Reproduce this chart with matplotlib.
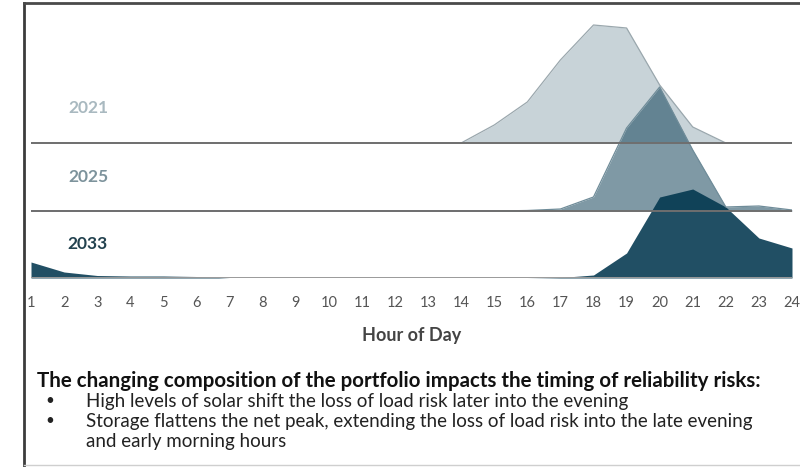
import matplotlib
matplotlib.use("Agg")
import matplotlib.pyplot as plt
from matplotlib.lines import Line2D

# Loss-of-load risk profile by hour of day (relative heights)
hours = list(range(1, 25))
years = ["2021", "2025", "2033"]
risk_2021 = [0, 0, 0, 0, 0, 0, 0, 0, 0, 0, 0, 0, 0, 0, 18, 41, 83, 118, 115, 58, 16, 0, 0, 0]
risk_2025 = [0, 0, 0, 0, 0, 0, 0, 0, 0, 0, 0, 0, 0, 0, 0, 0.5, 2, 14, 83, 124, 61, 4, 5, 1]
risk_2033 = [16, 6, 2.5, 2, 2, 1.5, 0, 0, 0, 0, 0, 0, 0, 0, 0, 0, 0.5, 3, 25, 81, 89, 71, 40, 30]
tick_labels = [str(h) for h in hours]

x_label = "Hour of Day"
headline = "The changing composition of the portfolio impacts the timing of reliability risks:"
bullets = [
    ["High levels of solar shift the loss of load risk later into the evening"],
    ["Storage flattens the net peak, extending the loss of load risk into the late evening",
     "and early morning hours"],
]

W, H = 800, 467
fig = plt.figure(figsize=(W / 100, H / 100), dpi=100)
fig.patch.set_facecolor("white")
font = ["Lato", "DejaVu Sans"]

def fx(px):
    return px / W

def fy(py):
    return 1 - py / H

ax = fig.add_axes([fx(31), fy(278), fx(792) - fx(31), fy(3) - fy(278)])
ax.set_xlim(1, 24)
ax.set_ylim(0, 275)
for s in ax.spines.values():
    s.set_visible(False)
ax.set_yticks([])

base_color = "#00354d"
rows = [
    (risk_2021, 135, 0.215, "#a9b9c0", "#9aa7ad"),
    (risk_2025, 67, 0.5, "#7d939c", "#6f8c99"),
    (risk_2033, 0, 0.87, "#23424f", None),
]
label_y = {"2021": 108, "2025": 177, "2033": 244}
for name, (vals, base, alpha, txt_col, edge) in zip(years, rows):
    top = [base + v for v in vals]
    ax.fill_between(hours, base, top, color=base_color, alpha=alpha, linewidth=0, zorder=2)
    if edge:
        ax.plot(hours, top, color=edge, lw=0.9, zorder=2.5)
    ax.hlines(base, 1, 24, color="#6f6f6f" if base > 0 else "#9a9a9a", lw=1.4, zorder=3)
    fig.text(fx(88), fy(label_y[name]), name, ha="center", va="center",
             fontsize=12.5, fontweight="bold", color=txt_col, family=font)

ax.set_xticks(hours)
ax.set_xticklabels(tick_labels, family=font, fontsize=10.5, color="#555555")
ax.tick_params(axis="x", length=0, pad=13)

fig.text(fx(412), fy(336), x_label, ha="center", va="center",
         fontsize=13, fontweight="bold", color="#444444", family=font)

fig.text(fx(37), fy(381), headline, ha="left", va="center",
         fontsize=14.8, fontweight="bold", color="#111111", family=font)
line_y = 401
for item in bullets:
    fig.text(fx(45), fy(line_y), "\u2022", ha="left", va="center",
             fontsize=11, color="#222222", family=font)
    for line in item:
        fig.text(fx(86), fy(line_y), line, ha="left", va="center",
                 fontsize=13.5, color="#222222", family=font)
        line_y += 20

# outer frame
fig.add_artist(Line2D([fx(24), fx(24)], [0, fy(3)], transform=fig.transFigure,
                      color="#3c3c3c", lw=2))
fig.add_artist(Line2D([fx(24), 1], [fy(3), fy(3)], transform=fig.transFigure,
                      color="#4a4a4a", lw=2))
fig.add_artist(Line2D([fx(24), 1], [fy(465), fy(465)], transform=fig.transFigure,
                      color="#cfcfcf", lw=1))

fig.savefig("out.png", dpi=100, facecolor="white")
